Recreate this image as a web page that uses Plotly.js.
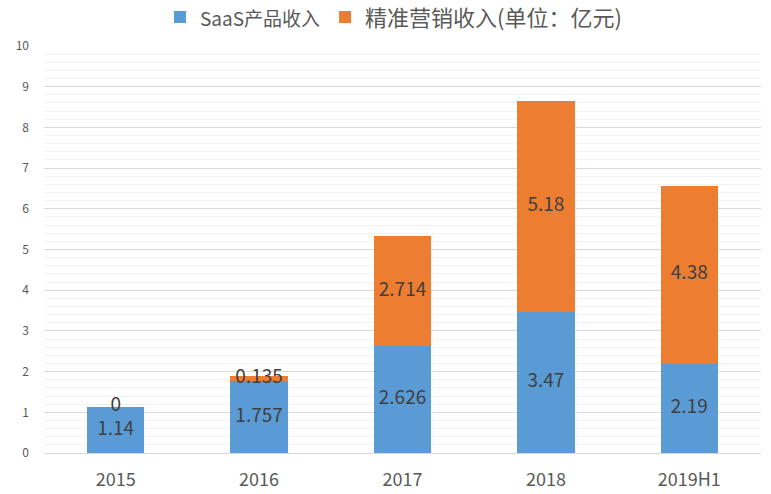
<!DOCTYPE html>
<html><head><meta charset="utf-8">
<script src="https://cdn.plot.ly/plotly-3.0.1.min.js"></script>
<style>html,body{margin:0;padding:0;background:#fff;}#chart{width:771px;height:494px;}</style>
</head><body><div id="chart"></div>
<script>
const categories = ['2015', '2016', '2017', '2018', '2019H1'];
const saasRevenue = [1.14, 1.757, 2.626, 3.47, 2.19];
const marketingRevenue = [0, 0.135, 2.714, 5.18, 4.38];
const seriesNames = ['SaaS产品收入', '精准营销收入(单位：亿元)'];
const yTicks = [0, 1, 2, 3, 4, 5, 6, 7, 8, 9, 10];

const FONT = '"Noto Sans CJK SC", "Noto Sans", sans-serif';
const BLUE = '#5b9bd5', ORANGE = '#ed7d31';

const saasMid = saasRevenue.map(v => v / 2);
const mktMid = saasRevenue.map((v, i) => v + marketingRevenue[i] / 2);

const traces = [
  {type: 'bar', name: '<span style="font-size:19px">' + seriesNames[0] + '</span>',
   x: categories, y: saasRevenue,
   marker: {color: BLUE}, hoverinfo: 'none'},
  {type: 'bar', name: seriesNames[1],
   x: categories, y: marketingRevenue,
   marker: {color: ORANGE}, hoverinfo: 'none'},
  {type: 'scatter', mode: 'text', x: categories, y: saasMid,
   text: saasRevenue.map(String), showlegend: false, hoverinfo: 'none',
   textfont: {family: FONT, size: 19, color: '#404040'}},
  {type: 'scatter', mode: 'text', x: categories, y: mktMid,
   text: marketingRevenue.map(String), showlegend: false, hoverinfo: 'none',
   textfont: {family: FONT, size: 19, color: '#404040'}}
];

const layout = {
  width: 771, height: 494,
  margin: {l: 44, r: 10, t: 46, b: 41, autoexpand: false},
  barmode: 'stack',
  bargap: 0.6,
  paper_bgcolor: '#fff', plot_bgcolor: '#fff',
  font: {family: FONT, color: '#595959'},
  showlegend: true,
  legend: {orientation: 'h', xref: 'container', x: 0.2075, xanchor: 'left',
           yref: 'container', y: 0.965, yanchor: 'middle',
           font: {family: FONT, size: 22, color: '#595959'}, itemwidth: 30,
           traceorder: 'normal'},
  xaxis: {type: 'category', showgrid: false, zeroline: false, showline: false,
          ticks: '', tickfont: {family: FONT, size: 18, color: '#595959'},
          ticklabelstandoff: 14},
  yaxis: {range: [0, 10], tickvals: yTicks, ticktext: yTicks.map(String),
          showgrid: true, gridcolor: '#d9d9d9', gridwidth: 1,
          zeroline: true, zerolinecolor: '#d9d9d9', zerolinewidth: 1,
          showline: false, ticks: '',
          tickfont: {family: FONT, size: 12, color: '#595959'},
          ticklabelstandoff: 14,
          minor: {dtick: 0.2, tick0: 0, showgrid: true, gridcolor: '#f2f2f2', gridwidth: 1, ticks: ''}}
};

Plotly.newPlot('chart', traces, layout, {displayModeBar: false, staticPlot: true});
</script></body></html>
